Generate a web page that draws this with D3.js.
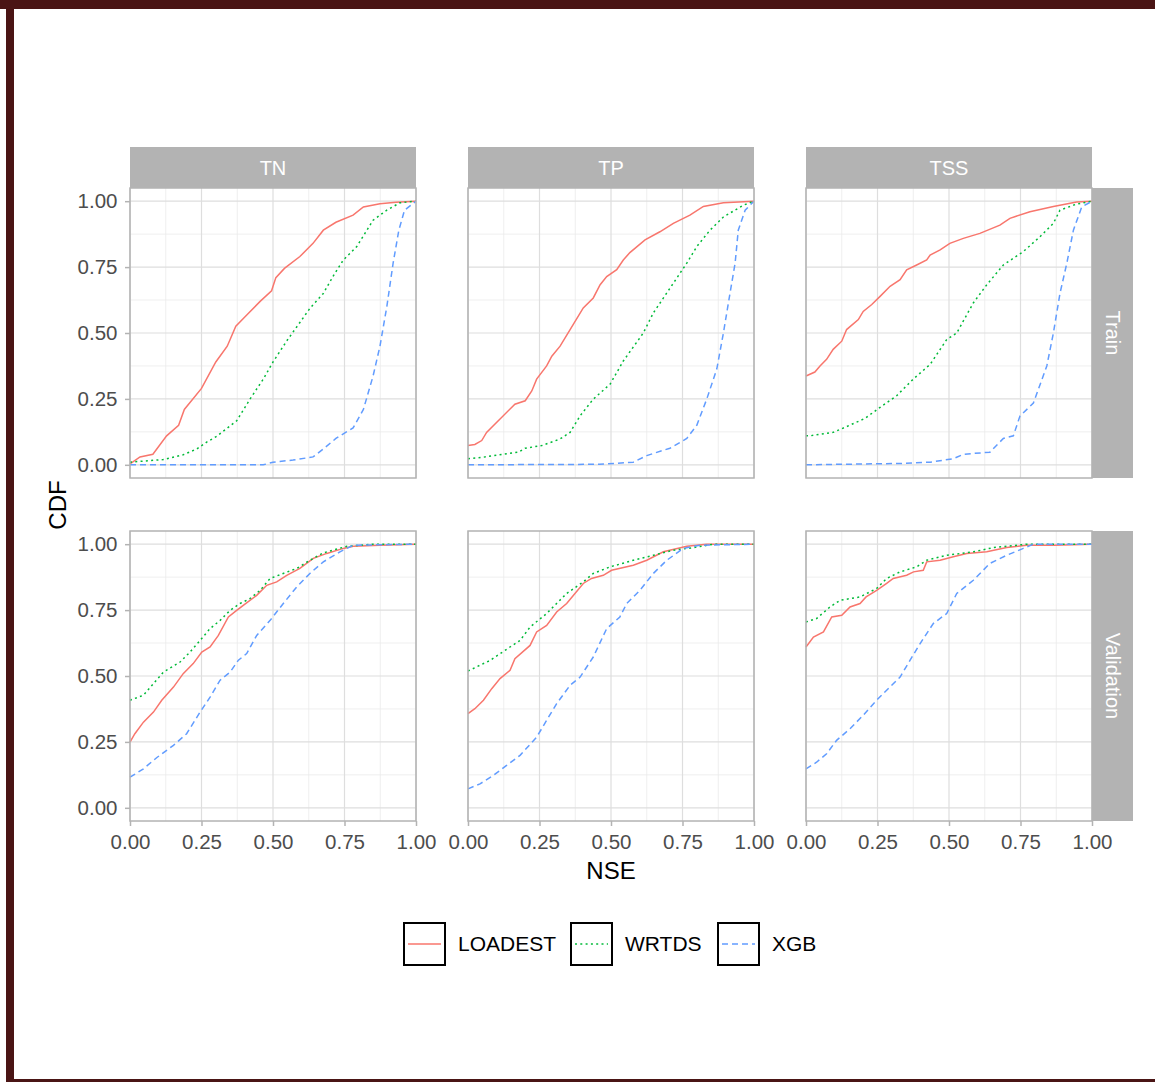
<!DOCTYPE html>
<html>
<head>
<meta charset="utf-8">
<script src="https://cdn.jsdelivr.net/npm/d3@7"></script>
<style>
  body { margin: 0; background: #fff; }
  svg { display: block; font-family: "Liberation Sans", Arial, sans-serif; }
</style>
</head>
<body>
<svg id="chart" width="1155" height="1082"></svg>
<script>
// facet names and models
const params = ["TN", "TP", "TSS"];
const sets = ["Train", "Validation"];
const models = ["LOADEST", "WRTDS", "XGB"];
const tickVals = [0, 0.25, 0.5, 0.75, 1];

// CDF curves: [NSE, CDF]
const tnTrainLoadest = [[0,0.004],[0.035,0.03],[0.08,0.04],[0.128,0.11],[0.17,0.15],[0.19,0.21],[0.25,0.29],[0.30,0.39],[0.34,0.45],[0.37,0.526],[0.41,0.57],[0.455,0.62],[0.495,0.66],[0.51,0.71],[0.54,0.745],[0.594,0.79],[0.64,0.84],[0.676,0.89],[0.72,0.92],[0.78,0.947],[0.816,0.978],[0.874,0.99],[0.93,0.996],[1,1]];
const tnTrainWrtds = [[0,0.01],[0.116,0.02],[0.186,0.038],[0.233,0.06],[0.268,0.086],[0.303,0.108],[0.373,0.167],[0.42,0.25],[0.466,0.325],[0.50,0.39],[0.548,0.47],[0.594,0.54],[0.63,0.595],[0.676,0.65],[0.71,0.715],[0.746,0.777],[0.793,0.828],[0.85,0.928],[0.898,0.966],[0.944,0.994],[1,1]];
const tnTrainXgb = [[0,0],[0.466,0],[0.50,0.01],[0.57,0.018],[0.64,0.03],[0.676,0.06],[0.72,0.10],[0.78,0.14],[0.816,0.21],[0.85,0.337],[0.874,0.45],[0.898,0.60],[0.92,0.765],[0.94,0.89],[0.96,0.966],[1,1]];

const tpTrainLoadest = [[0,0.073],[0.024,0.077],[0.048,0.092],[0.065,0.123],[0.112,0.174],[0.164,0.23],[0.2,0.243],[0.223,0.28],[0.24,0.325],[0.275,0.375],[0.293,0.412],[0.322,0.45],[0.357,0.513],[0.403,0.595],[0.438,0.633],[0.462,0.683],[0.485,0.714],[0.52,0.74],[0.543,0.777],[0.566,0.805],[0.619,0.853],[0.671,0.884],[0.718,0.916],[0.776,0.947],[0.823,0.98],[0.893,0.994],[1,1]];
const tpTrainWrtds = [[0,0.023],[0.054,0.029],[0.176,0.048],[0.2,0.063],[0.258,0.073],[0.322,0.098],[0.357,0.123],[0.392,0.186],[0.438,0.249],[0.497,0.306],[0.543,0.394],[0.613,0.50],[0.648,0.576],[0.718,0.689],[0.765,0.765],[0.80,0.828],[0.846,0.89],[0.893,0.94],[0.963,0.985],[1,1]];
const tpTrainXgb = [[0,0],[0.46,0.002],[0.578,0.01],[0.625,0.035],[0.706,0.063],[0.765,0.10],[0.80,0.15],[0.835,0.25],[0.87,0.364],[0.893,0.50],[0.916,0.65],[0.934,0.765],[0.945,0.89],[0.969,0.966],[1,1]];

const tssTrainLoadest = [[0,0.337],[0.031,0.352],[0.049,0.375],[0.072,0.40],[0.095,0.438],[0.125,0.469],[0.142,0.513],[0.183,0.551],[0.20,0.582],[0.23,0.608],[0.259,0.639],[0.294,0.677],[0.329,0.702],[0.352,0.74],[0.387,0.758],[0.422,0.777],[0.434,0.796],[0.469,0.815],[0.503,0.84],[0.55,0.859],[0.608,0.878],[0.678,0.909],[0.713,0.935],[0.783,0.96],[0.865,0.98],[0.946,0.997],[1,1]];
const tssTrainWrtds = [[0,0.11],[0.014,0.11],[0.095,0.123],[0.136,0.142],[0.206,0.176],[0.259,0.218],[0.317,0.262],[0.375,0.325],[0.434,0.381],[0.492,0.475],[0.527,0.50],[0.585,0.614],[0.632,0.683],[0.69,0.758],[0.76,0.809],[0.818,0.865],[0.865,0.916],[0.888,0.966],[0.946,0.989],[1,1]];
const tssTrainXgb = [[0,0],[0.119,0.002],[0.329,0.005],[0.434,0.01],[0.515,0.023],[0.55,0.04],[0.643,0.048],[0.69,0.10],[0.725,0.11],[0.748,0.185],[0.795,0.234],[0.842,0.375],[0.865,0.50],[0.888,0.65],[0.912,0.765],[0.935,0.89],[0.964,0.978],[1,1]];

const tnValLoadest = [[0,0.249],[0.017,0.281],[0.047,0.325],[0.082,0.363],[0.111,0.408],[0.152,0.458],[0.186,0.509],[0.221,0.547],[0.251,0.591],[0.28,0.61],[0.309,0.654],[0.344,0.724],[0.373,0.749],[0.396,0.768],[0.443,0.806],[0.478,0.844],[0.513,0.857],[0.548,0.882],[0.594,0.908],[0.641,0.946],[0.688,0.965],[0.746,0.984],[0.781,0.992],[0.874,0.996],[1,1]];
const tnValWrtds = [[0,0.408],[0.047,0.427],[0.082,0.471],[0.117,0.515],[0.175,0.553],[0.21,0.591],[0.245,0.635],[0.28,0.68],[0.315,0.711],[0.35,0.749],[0.385,0.775],[0.42,0.794],[0.455,0.825],[0.49,0.87],[0.536,0.889],[0.583,0.908],[0.629,0.939],[0.676,0.967],[0.758,0.992],[0.851,1],[1,1]];
const tnValXgb = [[0,0.116],[0.047,0.148],[0.093,0.19],[0.152,0.237],[0.198,0.281],[0.245,0.363],[0.28,0.42],[0.315,0.484],[0.35,0.515],[0.379,0.56],[0.408,0.585],[0.443,0.654],[0.49,0.711],[0.536,0.775],[0.583,0.838],[0.629,0.889],[0.676,0.933],[0.734,0.971],[0.781,0.996],[1,1]];

const tpValLoadest = [[0,0.357],[0.024,0.376],[0.054,0.408],[0.083,0.452],[0.112,0.49],[0.147,0.522],[0.164,0.566],[0.217,0.616],[0.24,0.667],[0.275,0.692],[0.31,0.743],[0.345,0.775],[0.374,0.813],[0.403,0.851],[0.432,0.87],[0.473,0.882],[0.502,0.901],[0.578,0.92],[0.625,0.939],[0.683,0.971],[0.765,0.992],[0.834,1],[1,1]];
const tpValWrtds = [[0,0.519],[0.077,0.559],[0.147,0.61],[0.182,0.635],[0.217,0.686],[0.275,0.737],[0.345,0.813],[0.403,0.857],[0.438,0.889],[0.497,0.914],[0.578,0.939],[0.648,0.958],[0.718,0.977],[0.788,0.987],[0.858,1],[1,1]];
const tpValXgb = [[0,0.072],[0.042,0.091],[0.089,0.123],[0.135,0.161],[0.182,0.199],[0.24,0.268],[0.275,0.332],[0.31,0.395],[0.357,0.465],[0.392,0.496],[0.438,0.572],[0.485,0.68],[0.531,0.724],[0.555,0.775],[0.601,0.825],[0.648,0.889],[0.695,0.939],[0.753,0.984],[0.811,0.996],[1,1]];

const tssValLoadest = [[0,0.61],[0.026,0.648],[0.061,0.667],[0.09,0.724],[0.125,0.73],[0.154,0.762],[0.189,0.775],[0.21,0.80],[0.247,0.825],[0.282,0.851],[0.305,0.87],[0.352,0.882],[0.376,0.895],[0.41,0.901],[0.422,0.933],[0.469,0.939],[0.515,0.952],[0.562,0.965],[0.632,0.971],[0.702,0.987],[0.772,0.996],[0.865,0.996],[1,1]];
const tssValWrtds = [[0,0.705],[0.037,0.718],[0.084,0.762],[0.119,0.787],[0.189,0.80],[0.247,0.832],[0.282,0.87],[0.329,0.895],[0.387,0.914],[0.422,0.939],[0.492,0.958],[0.585,0.971],[0.655,0.987],[0.772,1],[1,1]];
const tssValXgb = [[0,0.148],[0.037,0.173],[0.072,0.205],[0.107,0.256],[0.154,0.30],[0.2,0.351],[0.247,0.408],[0.282,0.446],[0.329,0.496],[0.364,0.56],[0.399,0.623],[0.445,0.699],[0.492,0.737],[0.527,0.813],[0.585,0.863],[0.643,0.927],[0.702,0.958],[0.76,0.984],[0.795,1],[1,1]];

// lookup built from the arrays above
const curves = {
  "TN|Train": [tnTrainLoadest, tnTrainWrtds, tnTrainXgb],
  "TP|Train": [tpTrainLoadest, tpTrainWrtds, tpTrainXgb],
  "TSS|Train": [tssTrainLoadest, tssTrainWrtds, tssTrainXgb],
  "TN|Validation": [tnValLoadest, tnValWrtds, tnValXgb],
  "TP|Validation": [tpValLoadest, tpValWrtds, tpValXgb],
  "TSS|Validation": [tssValLoadest, tssValWrtds, tssValXgb]
};

const colors = ["#F8766D", "#00BA38", "#619CFF"];
const dashes = [null, "2,3.3", "6,4"];
const font = "Liberation Sans, Arial, sans-serif";

const svg = d3.select("#chart");

// dark frame
svg.append("rect").attr("x", 0).attr("y", 0).attr("width", 1155).attr("height", 9).attr("fill", "#4a1515");
svg.append("rect").attr("x", 6).attr("y", 0).attr("width", 8).attr("height", 1082).attr("fill", "#4a1515");
svg.append("rect").attr("x", 6).attr("y", 1079).attr("width", 1149).attr("height", 3).attr("fill", "#4a1515");

const colX = [130, 468, 806];
const rowY = [188, 531];
const pw = 286, ph = 290;

const line = d3.line();

sets.forEach((set, r) => {
  params.forEach((p, c) => {
    const x = d3.scaleLinear().domain([0, 1]).range([colX[c], colX[c] + pw]);
    const y = d3.scaleLinear().domain([-0.05, 1.05]).range([rowY[r] + ph, rowY[r]]);
    const g = svg.append("g");

    // minor grid
    const minor = [0.125, 0.375, 0.625, 0.875];
    g.selectAll(".mx").data(minor).enter().append("line")
      .attr("x1", d => x(d)).attr("x2", d => x(d))
      .attr("y1", rowY[r]).attr("y2", rowY[r] + ph)
      .attr("stroke", "#EBEBEB").attr("stroke-width", 0.8);
    g.selectAll(".my").data(minor).enter().append("line")
      .attr("x1", colX[c]).attr("x2", colX[c] + pw)
      .attr("y1", d => y(d)).attr("y2", d => y(d))
      .attr("stroke", "#EBEBEB").attr("stroke-width", 0.8);
    // major grid
    g.selectAll(".gx").data(tickVals).enter().append("line")
      .attr("x1", d => x(d)).attr("x2", d => x(d))
      .attr("y1", rowY[r]).attr("y2", rowY[r] + ph)
      .attr("stroke", "#DEDEDE").attr("stroke-width", 1.2);
    g.selectAll(".gy").data(tickVals).enter().append("line")
      .attr("x1", colX[c]).attr("x2", colX[c] + pw)
      .attr("y1", d => y(d)).attr("y2", d => y(d))
      .attr("stroke", "#DEDEDE").attr("stroke-width", 1.2);

    // curves
    curves[p + "|" + set].forEach((pts, m) => {
      g.append("path")
        .attr("d", line(pts.map(d => [x(d[0]), y(d[1])])))
        .attr("fill", "none")
        .attr("stroke", colors[m])
        .attr("stroke-width", 1.5)
        .attr("stroke-dasharray", dashes[m]);
    });

    // panel border
    g.append("rect").attr("x", colX[c]).attr("y", rowY[r]).attr("width", pw).attr("height", ph)
      .attr("fill", "none").attr("stroke", "#B3B3B3").attr("stroke-width", 1.5);

    // axes
    if (c === 0) {
      const ay = g.append("g").attr("transform", `translate(${colX[c]},0)`)
        .call(d3.axisLeft(y).tickValues(tickVals).tickFormat(d3.format(".2f")).tickSize(5).tickPadding(7.5));
      ay.select(".domain").remove();
      ay.selectAll("line").attr("stroke", "#B3B3B3").attr("stroke-width", 1.5);
      ay.selectAll("text").attr("fill", "#4D4D4D").style("font-size", "20.5px").style("font-family", font);
    }
    if (r === 1) {
      const ax = g.append("g").attr("transform", `translate(0,${rowY[r] + ph})`)
        .call(d3.axisBottom(x).tickValues(tickVals).tickFormat(d3.format(".2f")).tickSize(5).tickPadding(8.5));
      ax.select(".domain").remove();
      ax.selectAll("line").attr("stroke", "#B3B3B3").attr("stroke-width", 1.5);
      ax.selectAll("text").attr("fill", "#4D4D4D").style("font-size", "20.5px").style("font-family", font);
    }
  });
});

// top strips
params.forEach((p, c) => {
  svg.append("rect").attr("x", colX[c]).attr("y", 147).attr("width", pw).attr("height", 41).attr("fill", "#B3B3B3");
  svg.append("text").attr("x", colX[c] + pw / 2).attr("y", 168).attr("dy", "0.35em")
    .attr("text-anchor", "middle").attr("fill", "#fff").style("font-size", "20px").text(p);
});
// right strips
sets.forEach((s, r) => {
  svg.append("rect").attr("x", 1092).attr("y", rowY[r]).attr("width", 41).attr("height", ph).attr("fill", "#B3B3B3");
  svg.append("text").attr("transform", `translate(1112.5,${rowY[r] + ph / 2}) rotate(90)`)
    .attr("dy", "0.35em").attr("text-anchor", "middle").attr("fill", "#fff").style("font-size", "20px").text(s);
});

// axis titles
svg.append("text").attr("transform", "translate(58,505) rotate(-90)").attr("dy", "0.35em")
  .attr("text-anchor", "middle").style("font-size", "24px").attr("fill", "#000").text("CDF");
svg.append("text").attr("x", 611).attr("y", 871).attr("dy", "0.35em")
  .attr("text-anchor", "middle").style("font-size", "24px").attr("fill", "#000").text("NSE");

// legend
const keyX = [404, 571, 718];
models.forEach((m, i) => {
  svg.append("rect").attr("x", keyX[i]).attr("y", 923).attr("width", 41).attr("height", 42)
    .attr("fill", "#fff").attr("stroke", "#000").attr("stroke-width", 2);
  svg.append("line").attr("x1", keyX[i] + 4).attr("x2", keyX[i] + 37).attr("y1", 944).attr("y2", 944)
    .attr("stroke", colors[i]).attr("stroke-width", 1.5).attr("stroke-dasharray", dashes[i]);
  svg.append("text").attr("x", keyX[i] + 54).attr("y", 944).attr("dy", "0.35em")
    .style("font-size", "21px").attr("fill", "#000").text(m);
});
</script>
</body>
</html>
